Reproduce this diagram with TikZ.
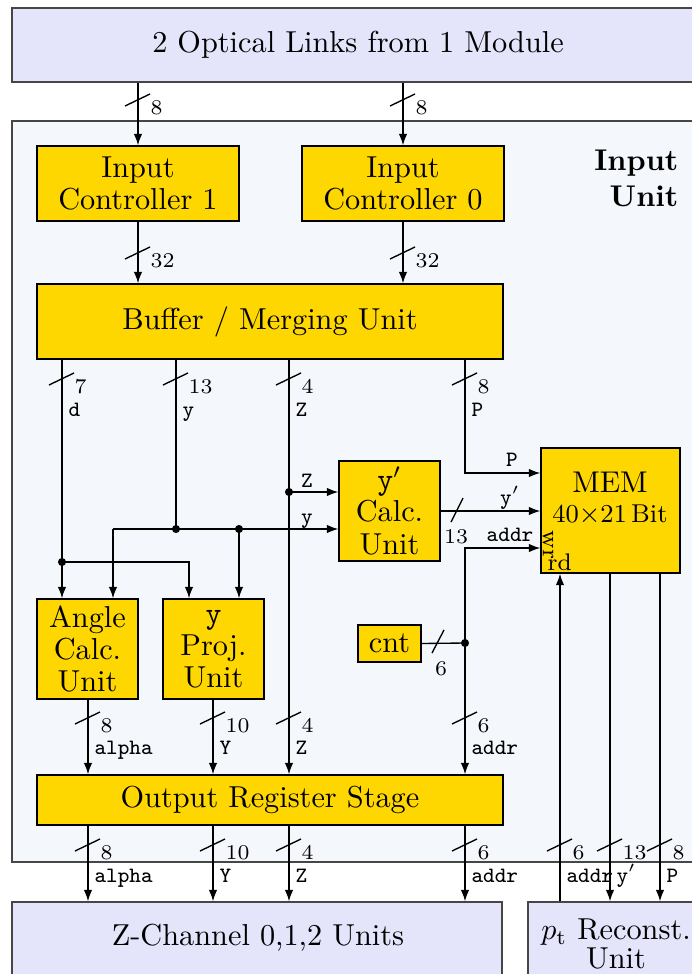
\documentclass[tikz,border=0pt]{standalone}
\usetikzlibrary{arrows.meta,fit}
\definecolor{lav}{RGB}{228,228,250}
\definecolor{iubg}{RGB}{244,248,253}
\definecolor{gold}{RGB}{255,215,0}
\definecolor{frm}{RGB}{70,70,70}
\newcommand{\busv}[3]{%
  \draw[wire] (#1-13,#2+6) -- (#1+12,#2-6);
  \node[num, anchor=base west] at (#1+12,#2+14) {#3};}
\newcommand{\sigv}[3]{\node[sig, anchor=base west] at (#1+6,#2) {#3};}
\begin{document}
\begin{tikzpicture}[x=0.33333pt,y=-0.33333pt,
  box/.style={draw=black, fill=gold, line width=0.45pt, inner sep=0pt},
  ext/.style={draw=frm, fill=lav, line width=0.45pt, inner sep=0pt},
  txt/.style={align=center, inner sep=0pt, font=\fontsize{10.1}{10.7}\selectfont},
  wire/.style={draw=black, line width=0.45pt},
  arr/.style={wire, -{Latex[length=3.8pt,width=2.8pt]}},
  num/.style={font=\fontsize{7}{8}\selectfont, inner sep=0pt},
  sig/.style={font=\fontsize{7.3}{8}\selectfont\ttfamily, inner sep=0pt},
  small/.style={font=\fontsize{8}{9}\selectfont, inner sep=0pt},
  dot/.style={circle, fill=black, inner sep=0pt, minimum size=2.7pt}
]
\useasboundingbox (0,0) rectangle (692,974);
\clip (0,0) rectangle (692,974);

% outer frames
\node[ext, fit={(12,8)(706,82)}] (links) {};
\node[txt] (linkst) at (358,45) {2 Optical Links from 1 Module};
\node[draw=frm, fill=iubg, line width=0.45pt, inner sep=0pt, fit={(12,121)(706,862)}] (iu) {};
\node[font=\fontsize{10}{12}\selectfont\bfseries, align=right, anchor=north east, inner sep=0pt] (iul) at (679,149) {Input\\Unit};

% blocks
\node[box, fit={(37,146)(239,221)}] (ic1) {};
\node[txt] (ic1t) at (ic1.center) {Input\\Controller 1};
\node[box, fit={(302,146)(504,221)}] (ic0) {};
\node[txt] (ic0t) at (ic0.center) {Input\\Controller 0};
\node[box, fit={(37,284)(503,359)}] (buf) {};
\node[txt] (buft) at (buf.center) {Buffer / Merging Unit};
\node[box, fit={(339,461)(440,561)}] (ycalc) {};
\node[txt] (ycalct) at (ycalc.center) {\texttt{y}$'$\\Calc.\\Unit};
\node[box, fit={(541,448)(680,573)}] (mem) {};
\node[font=\fontsize{10}{10}\selectfont, inner sep=0pt] (memt) at (610,482) {MEM};
\node[font=\fontsize{8.6}{10}\selectfont, inner sep=0pt] (mems) at (610,515) {40$\times$21\,Bit};
\node[small, rotate=-90] (wr) at (548,545) {wr};
\node[small, anchor=base west] (rd) at (547,570) {rd};
\node[box, fit={(358,625)(421,662)}] (cnt) {};
\node[txt] (cntt) at (cnt.center) {cnt};
\node[box, fit={(37,599)(138,699)}] (ang) {};
\node[txt] (angt) at (ang.center) {Angle\\Calc.\\Unit};
\node[box, fit={(163,599)(264,699)}] (proj) {};
\node[txt] (projt) at (proj.center) {\texttt{y}\\Proj.\\Unit};
\node[box, fit={(37,775)(503,825)}] (ors) {};
\node[txt] (orst) at (ors.center) {Output Register Stage};
\node[ext, fit={(12,902)(502,976)}] (zch) {};
\node[txt] (zcht) at (258,938) {Z-Channel 0,1,2 Units};
\node[ext, fit={(528,902)(706,986)}] (pt) {};
\node[txt, font=\fontsize{10.1}{9.5}\selectfont] (ptt) at (616,944) {$p_{\mathrm{t}}$ Reconst.\\Unit};

% top links
\draw[arr] (ic1.north |- links.south) -- (ic1.north);
\draw[arr] (ic0.north |- links.south) -- (ic0.north);
\busv{138}{100}{8}
\busv{403}{100}{8}
\draw[arr] (ic1.south) -- (ic1.south |- buf.north);
\draw[arr] (ic0.south) -- (ic0.south |- buf.north);
\busv{138}{253}{32}
\busv{403}{253}{32}

% junction coordinates
\coordinate (dJ) at (62,562);
\coordinate (yJ) at (176,529);
\coordinate (yL) at (113,529);
\coordinate (yR) at (239,529);
\coordinate (dR) at (189,562);
\coordinate (zJ) at (289,492);
\coordinate (pJ) at (465,473);
\coordinate (aJ) at (465,643);
\coordinate (aT) at (465,548);

% d
\draw[arr] (buf.south -| dJ) -- (dJ) -- (ang.north -| dJ);
\draw[arr] (dJ) -- (dR) -- (proj.north -| dR);
\busv{62}{379}{7}
\sigv{62}{416}{d}
% y
\draw[wire] (buf.south -| yJ) -- (yJ);
\draw[arr] (yL) -- (ycalc.west |- yL);
\draw[arr] (yL) -- (ang.north -| yL);
\draw[arr] (yR) -- (proj.north -| yR);
\busv{176}{379}{13}
\sigv{176}{416}{y}
\node[sig, anchor=base] (ylab) at (307,523) {y};
% Z
\draw[arr] (buf.south -| zJ) -- (ors.north -| zJ);
\draw[arr] (zJ) -- (ycalc.west |- zJ);
\busv{289}{379}{4}
\sigv{289}{416}{Z}
\node[sig, anchor=base] (zlab) at (307,487) {Z};
% P
\draw[arr] (buf.south -| pJ) -- (pJ) -- (mem.west |- pJ);
\busv{465}{379}{8}
\sigv{465}{416}{P}
\node[sig, anchor=base] (plab) at (512,466) {P};
% y' to MEM
\draw[arr] (ycalc.east) -- (mem.west |- ycalc.east);
\draw[wire] (451,522) -- (463,498);
\node[num, anchor=north] (n13) at (456,529) {13};
\node[sig, anchor=base] (yplab) at (510,504) {y$'$};
% cnt / addr
\draw[wire] (cnt.east) -- (aJ);
\draw[wire] (432,653) -- (444,630);
\node[num, anchor=north] (n6) at (441,661) {6};
\draw[arr] (aJ) -- (aT) -- (mem.west |- aT);
\node[sig, anchor=base] (alab) at (510,541) {addr};
\draw[arr] (aJ) -- (ors.north -| aJ);
\busv{465}{718}{6}
\sigv{465}{754}{addr}

% angle / proj to ORS
\draw[arr] (ang.south -| 88,0) -- (ors.north -| 88,0);
\busv{88}{718}{8}
\sigv{88}{754}{alpha}
\draw[arr] (proj.south -| 213,0) -- (ors.north -| 213,0);
\busv{213}{718}{10}
\sigv{213}{754}{Y}
\busv{289}{718}{4}
\sigv{289}{754}{Z}

% ORS outputs
\draw[arr] (ors.south -| 88,0) -- (zch.north -| 88,0);
\busv{88}{845}{8}
\sigv{88}{882}{alpha}
\draw[arr] (ors.south -| 213,0) -- (zch.north -| 213,0);
\busv{213}{845}{10}
\sigv{213}{882}{Y}
\draw[arr] (ors.south -| 289,0) -- (zch.north -| 289,0);
\busv{289}{845}{4}
\sigv{289}{882}{Z}
\draw[arr] (ors.south -| 465,0) -- (zch.north -| 465,0);
\busv{465}{845}{6}
\sigv{465}{882}{addr}

% MEM <-> pt
\draw[arr] (pt.north -| 560,0) -- (mem.south -| 560,0);
\busv{560}{845}{6}
\sigv{560}{882}{addr}
\draw[arr] (mem.south -| 610,0) -- (pt.north -| 610,0);
\busv{610}{845}{13}
\sigv{610}{882}{y$'$}
\draw[arr] (mem.south -| 660,0) -- (pt.north -| 660,0);
\busv{660}{845}{8}
\sigv{660}{882}{P}

% dots
\foreach \p in {dJ,yJ,yR,zJ,aJ}
  \node[dot] at (\p) {};
\end{tikzpicture}
\end{document}
